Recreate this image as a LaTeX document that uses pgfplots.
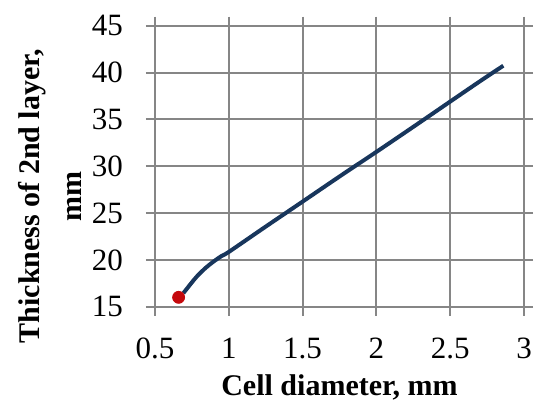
\documentclass[border=0pt]{standalone}
\usepackage{fontspec}
\setmainfont{Liberation Serif}
\usepackage{pgfplots}
\pgfplotsset{compat=1.18}
\definecolor{gridgray}{RGB}{134,134,134}
\definecolor{navy}{RGB}{24,54,92}
\definecolor{dotred}{RGB}{196,8,12}
\begin{document}
\begin{tikzpicture}
\useasboundingbox (-77.5pt,-52.15pt) rectangle (197.5pt,153.35pt);
\begin{axis}[
  at={(0,0)}, anchor=south west,
  scale only axis,
  width=184.5pt, height=140.5pt,
  xmin=0.5, xmax=3, ymin=15, ymax=45,
  xtick={0.5,1,1.5,2,2.5,3},
  ytick={15,20,25,30,35,40,45},
  xticklabels={0.5,1,1.5,2,2.5,3},
  grid=major,
  grid style={gridgray, line width=1pt},
  axis line style={gridgray, line width=1pt},
  major tick style={gridgray, line width=1pt},
  tick align=outside,
  major tick length=4.5pt,
  tick label style={font=\fontsize{15.5}{17}\selectfont, text=black},
  /pgf/number format/assume math mode=true,
  xticklabel style={anchor=base, yshift=-21.5pt},
  yticklabel style={anchor=east, xshift=-8pt},
  xlabel={Cell diameter, mm},
  xlabel style={font=\fontsize{15}{18}\selectfont\bfseries, anchor=base, at={(axis description cs:0.5,0)}, yshift=-44.15pt},
  ylabel={Thickness of 2nd layer,\\mm},
  ylabel style={font=\fontsize{15}{21}\selectfont\bfseries, align=center, anchor=center, at={(axis description cs:-0.286,0.393)}},
  clip=false,
]
\addplot[navy, line width=2pt, smooth, tension=0.5] coordinates {
  (0.692,16.44) (0.74,17.4) (0.782,18.2) (0.84,19.1) (0.895,19.8) (0.95,20.4)
  (1.003,20.88) (1.25,23.55) (1.50,26.22) (1.75,28.9) (2.002,31.55)
  (2.25,34.2) (2.499,36.89) (2.70,39.05) (2.86,40.73)
};
\addplot[only marks, mark=*, mark size=3pt, mark options={fill=dotred, draw=dotred}] coordinates {(0.66,16.0)};
\end{axis}
\end{tikzpicture}
\end{document}
